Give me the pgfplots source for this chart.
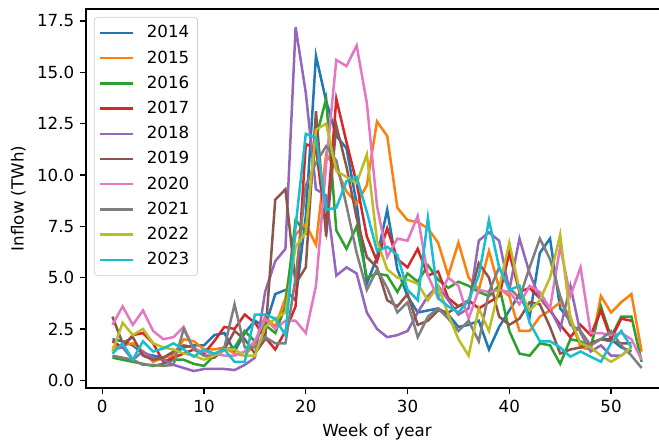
\documentclass[border=0pt]{standalone}
\usepackage{fontspec}
\setmainfont{DejaVu Sans}
\usepackage{pgfplots}
\usepackage{pgfplotstable}
\pgfplotsset{compat=1.18}
\definecolor{c0}{HTML}{1F77B4}
\definecolor{c1}{HTML}{FF7F0E}
\definecolor{c2}{HTML}{2CA02C}
\definecolor{c3}{HTML}{D62728}
\definecolor{c4}{HTML}{9467BD}
\definecolor{c5}{HTML}{8C564B}
\definecolor{c6}{HTML}{E377C2}
\definecolor{c7}{HTML}{7F7F7F}
\definecolor{c8}{HTML}{BCBD22}
\definecolor{c9}{HTML}{17BECF}
\pgfplotstableread{
w a b c d e f g h i j
1 2.0 1.6 1.1 1.9 1.5 3.1 2.7 1.2 1.4 1.3
2 1.9 1.7 1.0 1.6 1.6 1.8 3.6 1.1 2.8 1.8
3 1.7 1.8 0.9 2.2 1.0 2.1 2.7 1.0 2.2 1.0
4 1.3 1.4 0.8 2.3 1.4 1.2 3.4 0.75 2.5 1.9
5 1.2 0.9 0.7 1.8 1.1 1.0 2.4 0.75 1.8 1.4
6 1.1 1.1 0.8 0.9 1.0 1.1 2.0 0.7 1.6 1.55
7 1.3 1.2 1.0 1.1 0.75 1.4 2.1 0.75 1.5 1.8
8 1.6 2.0 1.0 1.3 0.6 1.7 2.6 2.5 1.3 1.5
9 1.7 1.9 0.8 1.5 0.45 1.6 1.5 1.5 1.2 1.15
10 1.7 1.5 0.7 1.3 0.55 1.2 1.4 1.2 1.0 1.5
11 2.2 1.5 1.2 1.9 0.55 1.1 1.3 1.2 1.2 1.3
12 2.3 1.6 1.5 2.6 0.55 1.5 1.2 1.6 1.5 1.5
13 1.4 1.3 1.6 2.5 0.5 2.4 1.2 3.7 1.5 0.9
14 2.3 1.2 2.4 3.2 0.75 2.0 1.4 1.6 1.2 0.9
15 2.9 1.8 1.9 2.8 1.1 1.3 1.9 1.6 1.2 3.2
16 2.6 3.1 2.7 2.1 4.3 2.0 3.0 2.1 2.6 3.2
17 4.2 2.6 2.3 1.5 5.8 8.8 2.5 1.8 3.0 3.0
18 4.4 4.0 3.6 2.4 6.4 9.3 2.9 1.8 3.3 2.2
19 3.9 7.1 7.8 3.6 17.2 4.7 2.9 5.0 6.5 7.5
20 8.0 7.6 7.2 11.5 14.0 5.5 2.3 9.5 7.2 12.0
21 15.8 6.6 11.8 11.3 9.3 13.1 4.6 10.6 12.2 11.8
22 13.6 11.0 13.7 7.4 9.0 7.0 10.5 11.4 12.5 8.3
23 11.9 10.3 7.3 13.7 5.1 12.4 15.6 10.7 10.2 8.4
24 11.3 9.2 6.4 11.6 5.5 10.4 15.3 8.5 9.9 9.7
25 8.6 8.6 7.5 9.6 5.2 7.9 16.3 6.2 9.6 9.9
26 4.7 9.5 5.0 7.0 3.3 6.0 13.5 4.4 11.0 8.2
27 6.0 12.6 5.2 5.8 2.5 5.5 8.5 5.4 6.8 6.3
28 8.3 11.9 5.1 7.4 2.1 3.9 6.0 4.5 5.4 6.5
29 5.4 8.4 4.3 5.9 2.2 3.6 6.9 3.3 5.0 6.1
30 4.1 7.8 5.2 5.5 2.4 4.2 6.8 3.8 4.9 4.4
31 3.3 7.7 4.8 6.4 3.3 2.7 8.0 2.1 4.7 3.9
32 3.4 7.4 5.6 5.1 4.1 2.9 5.1 3.1 3.9 7.9
33 3.5 6.7 4.9 5.3 4.6 3.4 4.0 3.5 4.6 4.0
34 3.2 5.1 4.5 4.0 3.9 3.3 5.0 3.0 3.2 3.6
35 2.6 6.7 4.8 3.6 3.2 3.6 4.6 2.4 2.0 3.3
36 2.7 5.0 4.6 3.9 3.5 3.8 3.0 2.9 1.2 3.9
37 2.9 4.4 4.3 3.5 6.8 5.7 4.4 1.9 3.5 5.1
38 1.5 6.3 4.1 3.8 7.2 5.0 4.3 4.3 2.4 7.8
39 2.6 4.5 4.6 4.1 6.8 3.1 4.4 5.5 4.5 5.5
40 3.4 4.1 2.4 6.2 4.4 2.7 4.3 4.5 6.7 4.4
41 4.2 2.4 1.3 4.3 6.9 3.0 3.7 4.0 4.4 4.6
42 3.1 2.4 1.2 4.5 5.2 3.8 4.6 5.5 3.4 2.8
43 6.2 3.1 1.8 4.0 4.0 3.7 4.3 6.9 3.9 1.9
44 6.9 3.4 1.7 3.4 3.5 2.6 3.5 5.9 5.0 1.9
45 3.5 3.8 0.8 2.7 2.5 1.3 6.5 4.1 7.1 1.6
46 2.9 3.1 2.0 2.1 4.6 1.5 4.1 2.7 3.0 1.15
47 1.7 1.6 1.9 2.7 2.3 1.6 5.5 2.4 1.8 1.4
48 1.8 1.5 1.6 2.2 1.4 1.8 2.3 1.7 1.6 1.15
49 2.0 4.1 3.6 3.4 1.7 2.0 2.3 2.0 1.2 0.9
50 2.0 3.3 2.1 2.0 1.2 1.9 2.2 2.4 0.9 1.8
51 1.6 3.8 3.1 3.0 1.2 1.8 2.3 1.7 1.2 2.4
52 1.4 4.2 3.1 2.9 1.6 1.8 2.0 1.2 1.6 1.6
53 nan 1.4 0.9 nan nan nan 1.0 0.6 nan nan
}\data
\begin{document}
\begin{tikzpicture}
\begin{axis}[
  scale only axis, width=349.2pt, height=227.4pt,
  xmin=-1.6, xmax=55.6, ymin=-0.375, ymax=18.085,
  xtick={0,10,...,50}, ytick={0,2.5,...,17.5},
  tick align=outside, tick pos=left, major tick length=3.5pt,
  axis line style={line width=0.8pt},
  tick style={line width=0.8pt, black},
  /pgf/number format/assume math mode=true,
  yticklabel style={/pgf/number format/.cd, fixed, fixed zerofill, precision=1},
  ticklabel style={font=\fontsize{10}{12}\selectfont},
  label style={font=\fontsize{10}{12}\selectfont},
  xlabel={Week of year}, ylabel={Inflow (TWh)},
  every axis plot/.append style={line width=1.5pt},
  legend cell align=left,
  legend image code/.code={\draw[#1, line width=1.5pt] (0pt,0pt) -- (20pt,0pt);},
  legend style={at={(0.0137,0.979)}, anchor=north west, draw=black!20,
    rounded corners=2pt, fill=white, fill opacity=0.8, text opacity=1, draw opacity=1,
    font=\fontsize{10}{12}\selectfont, row sep=1.2pt, column sep=5pt, inner sep=2.5pt,
    nodes={inner sep=2.5pt}},
]
\addplot[c0] table[x=w,y=a]{\data};
\addplot[c1] table[x=w,y=b]{\data};
\addplot[c2] table[x=w,y=c]{\data};
\addplot[c3] table[x=w,y=d]{\data};
\addplot[c4] table[x=w,y=e]{\data};
\addplot[c5] table[x=w,y=f]{\data};
\addplot[c6] table[x=w,y=g]{\data};
\addplot[c7] table[x=w,y=h]{\data};
\addplot[c8] table[x=w,y=i]{\data};
\addplot[c9] table[x=w,y=j]{\data};
\legend{2014,2015,2016,2017,2018,2019,2020,2021,2022,2023}
\coordinate (bbBL) at (axis cs:-10.05,-3.054);
\coordinate (bbTR) at (axis cs:54.71,18.52);
\end{axis}
\pgfresetboundingbox
\useasboundingbox (bbBL) rectangle (bbTR);
\end{tikzpicture}
\end{document}
